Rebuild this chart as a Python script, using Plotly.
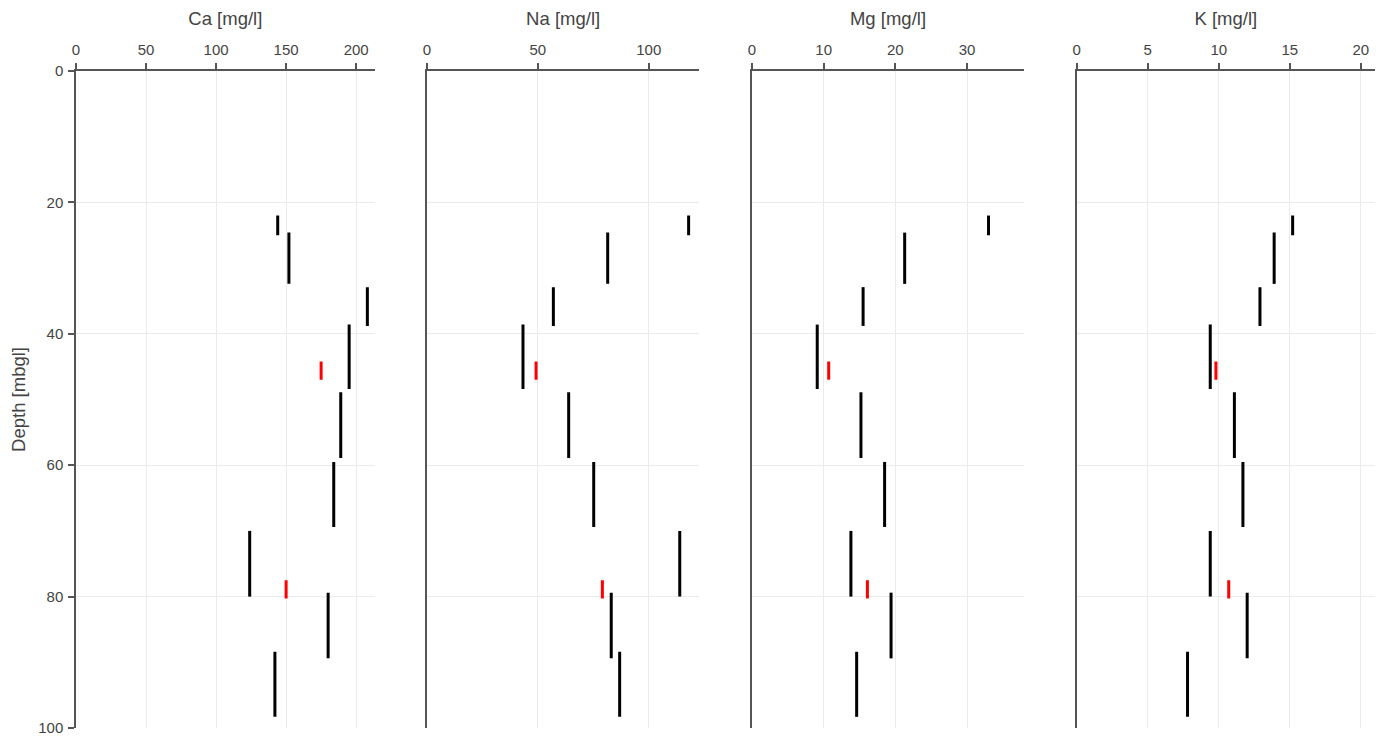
import plotly.graph_objects as go

# Depth intervals (m below ground level)
depth_top = [22.0, 24.6, 32.9, 38.6, 48.9, 59.5, 70.0, 79.4, 88.4]
depth_bottom = [25.0, 32.4, 38.8, 48.4, 58.9, 69.4, 80.0, 89.4, 98.3]

# Interval concentrations [mg/l]
ca = [144, 152, 208, 195, 189, 184, 124, 180, 142]
na = [118, 81.5, 57, 43.3, 63.9, 75.2, 114, 83.1, 86.9]
mg = [33.0, 21.3, 15.5, 9.1, 15.2, 18.5, 13.8, 19.4, 14.6]
k = [15.2, 13.9, 12.9, 9.4, 11.1, 11.7, 9.4, 12.0, 7.8]

# Point samples
sample_depth = [45.6, 78.9]
ca_s = [175, 150]
na_s = [49.2, 79.1]
mg_s = [10.7, 16.1]
k_s = [9.8, 10.7]

params = ["Ca [mg/l]", "Na [mg/l]", "Mg [mg/l]", "K [mg/l]"]
interval_vals = [ca, na, mg, k]
sample_vals = [ca_s, na_s, mg_s, k_s]
x_ranges = [[0, 213.2], [0, 122.8], [0, 37.95], [0, 21.0]]
x_dtick = [50, 50, 10, 5]
domains = [[0.0, 0.2299], [0.2702, 0.4798], [0.5204, 0.7298], [0.7704, 1.0]]

FONT = "Liberation Sans, Arial, sans-serif"
TXT = "#444"

fig = go.Figure()
layout = {}
for i in range(4):
    ax = "" if i == 0 else str(i + 1)
    xs, ys = [], []
    for v, t, b in zip(interval_vals[i], depth_top, depth_bottom):
        xs += [v, v, None]
        ys += [t, b, None]
    fig.add_trace(go.Scatter(
        x=xs, y=ys, mode="lines", line=dict(color="black", width=3),
        xaxis="x" + ax, yaxis="y" + ax, showlegend=False, hoverinfo="skip"))
    fig.add_trace(go.Scatter(
        x=sample_vals[i], y=sample_depth, mode="markers",
        marker=dict(symbol="line-ns", size=13, line=dict(color="red", width=3)),
        xaxis="x" + ax, yaxis="y" + ax, showlegend=False))
    layout["xaxis" + ax] = dict(
        domain=domains[i], anchor="y" + ax, side="top", range=x_ranges[i],
        dtick=x_dtick[i], tick0=0, showgrid=True, gridcolor="#ebebeb", gridwidth=1,
        zeroline=False, showline=True, linecolor="#555", linewidth=1.5,
        ticks="outside", ticklen=6, tickcolor="#555", tickwidth=1.5,
        ticklabelstandoff=2, automargin=False,
        tickfont=dict(family=FONT, size=15, color=TXT),
        title=dict(text=params[i], font=dict(family=FONT, size=18.5, color=TXT), standoff=13))
    layout["yaxis" + ax] = dict(
        domain=[0, 1], anchor="x" + ax, range=[100, 0], tickvals=[0, 20, 40, 60, 80, 100],
        showgrid=True, gridcolor="#ebebeb", gridwidth=1, zeroline=False,
        showline=True, linecolor="#555", linewidth=1.5,
        ticks="outside" if i == 0 else "", ticklen=6, tickcolor="#555", tickwidth=1.5,
        showticklabels=(i == 0), ticklabelstandoff=2, automargin=False,
        tickfont=dict(family=FONT, size=15, color=TXT),
        title=dict(text="Depth [mbgl]" if i == 0 else "",
                   font=dict(family=FONT, size=18.5, color=TXT), standoff=12))

fig.update_layout(
    width=1389, height=740, plot_bgcolor="white", paper_bgcolor="white",
    margin=dict(l=68, r=22, t=63, b=20), font=dict(family=FONT, color=TXT),
    **layout)

fig.write_html("out.html")
